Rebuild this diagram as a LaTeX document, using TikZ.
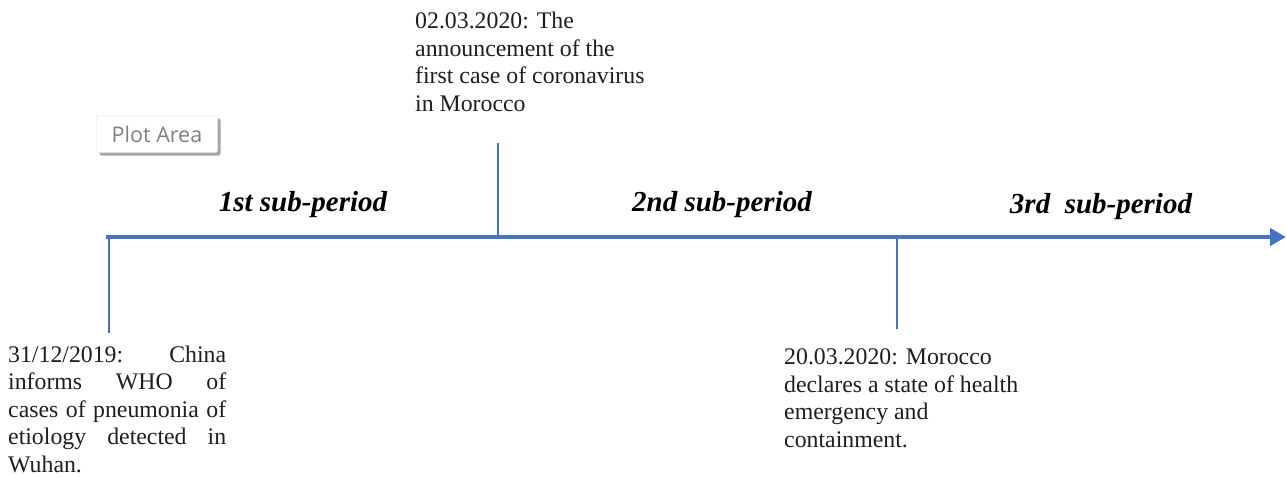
\documentclass[tikz,border=0pt]{standalone}
\usepackage{fontspec}
\setmainfont{Liberation Serif}
\newfontfamily\uifont{Open Sans}
\usetikzlibrary{arrows.meta,shadows}
\definecolor{axisblue}{HTML}{4472C4}
\definecolor{evtext}{HTML}{1E1E1E}
\definecolor{uigray}{HTML}{808080}
\begin{document}
\begin{tikzpicture}[x=1pt,y=-1pt,
  axisline/.style={draw=axisblue,line width=4pt},
  tickline/.style={draw=axisblue,line width=2pt},
  event/.style={inner sep=0pt,anchor=base west,align=left,text=evtext,
    font=\fontsize{23.8}{27.5}\selectfont},
  period/.style={inner sep=0pt,anchor=base,text=black,
    font=\fontsize{29}{33}\selectfont\bfseries\itshape}]
\useasboundingbox (0,0) rectangle (1287,477);

% timeline coordinates
\coordinate (start) at (106,237);
\coordinate (endp) at (1286,237);
\coordinate (m0) at (109,237);
\coordinate (m0b) at (109,333);
\coordinate (m1) at (498,237);
\coordinate (m1t) at (498,143);
\coordinate (m2) at (897,237);
\coordinate (m2b) at (897,329);

\draw[tickline] (m0) -- (m0b);
\draw[tickline] (m1) -- (m1t);
\draw[tickline] (m2) -- (m2b);
\draw[axisline,-{Triangle[length=16pt,width=17pt]}] (start) -- (endp);

% period labels
\node[period] (p1) at (303,211) {1st sub-period};
\node[period] (p2) at (722,211) {2nd sub-period};
\node[period] (p3) at (1101,213) {3rd\ \ sub-period};

% events (anchored at the baseline of their last line)
\node[event] (e1) at (415,111) {02.03.2020: The\\announcement of the\\first case of coronavirus\\in Morocco};
\node[event] (e0) at (8,472) {\makebox[218pt][s]{31/12/2019: China}\\\makebox[218pt][s]{informs WHO of}\\\makebox[218pt][s]{cases of pneumonia of}\\\makebox[218pt][s]{etiology detected in}\\Wuhan.};
\node[event] (e2) at (784,447) {20.03.2020: Morocco\\declares a state of health\\emergency and\\containment.};

% plot area tag
\node[draw=gray!25,fill=white,rounded corners=2pt,minimum width=121pt,minimum height=37pt,inner sep=0pt,
  drop shadow={shadow xshift=3pt,shadow yshift=-3pt,fill=gray!70,opacity=1},
  text=uigray,font=\uifont\fontsize{21.5}{25}\selectfont] (plot) at (157,134) {Plot Area};
\end{tikzpicture}
\end{document}
